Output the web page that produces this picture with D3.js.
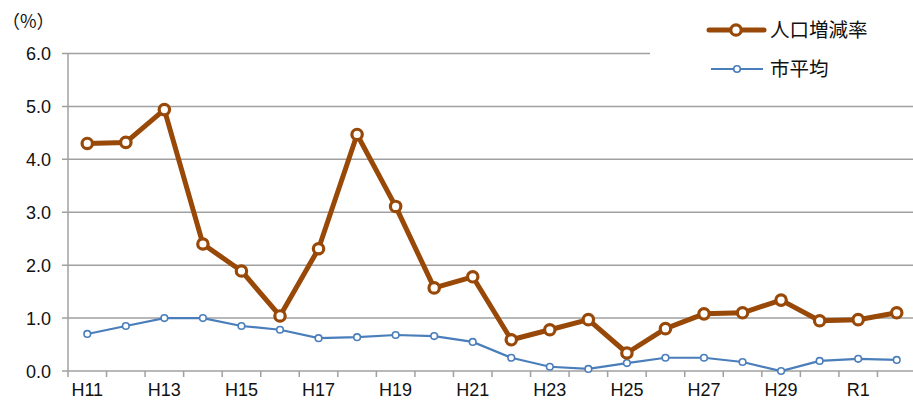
<!DOCTYPE html>
<html>
<head>
<meta charset="utf-8">
<script src="https://cdn.jsdelivr.net/npm/d3@7"></script>
<style>
  body { margin: 0; background: #fff; }
  text { font-family: "Liberation Sans", Arial, sans-serif; }
  .jp { font-family: "Noto Sans CJK JP", sans-serif; }
</style>
</head>
<body>
<div id="chart"></div>
<script>
let years = ["H11","H12","H13","H14","H15","H16","H17","H18","H19","H20","H21",
             "H22","H23","H24","H25","H26","H27","H28","H29","H30","R1","R2"]
let tickLabels = ["H11","H13","H15","H17","H19","H21","H23","H25","H27","H29","R1"]
let popRate = [4.30,4.32,4.94,2.40,1.89,1.04,2.31,4.47,3.11,1.57,1.78,
               0.59,0.78,0.97,0.34,0.80,1.08,1.10,1.34,0.95,0.97,1.10]
let cityAvg = [0.70,0.85,1.00,1.00,0.85,0.78,0.62,0.64,0.68,0.66,0.55,
               0.25,0.08,0.04,0.15,0.25,0.25,0.17,0.00,0.19,0.23,0.21]
let yTicks = [0,1,2,3,4,5,6]

let svgWidth = 913, svgHeight = 403
let orange = "#984807", blue = "#4a7ebb", grid = "#a0a0a0"

let svg = d3.select("#chart").append("svg")
  .attr("width", svgWidth).attr("height", svgHeight)

let x = d3.scaleBand().domain(years).range([68, 916])
let y = d3.scaleLinear().domain([0, 6]).range([371, 53.5])
let cx = d => x(d) + x.bandwidth() / 2

// gridlines
svg.append("g").selectAll("line").data(yTicks).enter().append("line")
  .attr("x1", 62).attr("x2", svgWidth)
  .attr("y1", d => y(d)).attr("y2", d => y(d))
  .attr("stroke", grid).attr("stroke-width", 1.5)

// y axis line
svg.append("line").attr("x1", 68).attr("x2", 68)
  .attr("y1", y(6)).attr("y2", 377)
  .attr("stroke", grid).attr("stroke-width", 1.5)

// x tick marks at category boundaries
svg.append("g").selectAll("line").data(years.slice(1)).enter().append("line")
  .attr("x1", d => x(d)).attr("x2", d => x(d))
  .attr("y1", 371).attr("y2", 377)
  .attr("stroke", grid).attr("stroke-width", 1.5)

// y labels
svg.append("g").selectAll("text").data(yTicks).enter().append("text")
  .attr("x", 51).attr("y", d => y(d) + 6.5)
  .attr("text-anchor", "end").attr("font-size", 18).attr("fill", "#111")
  .text(d => d.toFixed(1))

// x labels
svg.append("g").selectAll("text").data(tickLabels).enter().append("text")
  .attr("x", d => cx(d)).attr("y", 396)
  .attr("text-anchor", "middle").attr("font-size", 18).attr("fill", "#111")
  .text(d => d)

svg.append("text").attr("class", "jp").attr("x", 2).attr("y", 28)
  .attr("font-size", 18).attr("fill", "#111").text("（%）")

// series
let line = d3.line().x((d, i) => cx(years[i])).y(d => y(d))

svg.append("path").datum(cityAvg).attr("d", line)
  .attr("fill", "none").attr("stroke", blue).attr("stroke-width", 2.2)
svg.append("g").selectAll("circle").data(cityAvg).enter().append("circle")
  .attr("cx", (d, i) => cx(years[i])).attr("cy", d => y(d)).attr("r", 3.3)
  .attr("fill", "#fff").attr("stroke", blue).attr("stroke-width", 1.6)

svg.append("path").datum(popRate).attr("d", line)
  .attr("fill", "none").attr("stroke", orange).attr("stroke-width", 5)
  .attr("stroke-linejoin", "round")
svg.append("g").selectAll("circle").data(popRate).enter().append("circle")
  .attr("cx", (d, i) => cx(years[i])).attr("cy", d => y(d)).attr("r", 5.2)
  .attr("fill", "#fff").attr("stroke", orange).attr("stroke-width", 3.2)

// legend
let legend = svg.append("g")
legend.append("rect").attr("x", 650).attr("y", 0).attr("width", 263).attr("height", 95)
  .attr("fill", "#fff")
legend.append("line").attr("x1", 709).attr("x2", 764).attr("y1", 30).attr("y2", 30)
  .attr("stroke", orange).attr("stroke-width", 5).attr("stroke-linecap", "round")
legend.append("circle").attr("cx", 736).attr("cy", 30).attr("r", 5.2)
  .attr("fill", "#fff").attr("stroke", orange).attr("stroke-width", 3.2)
legend.append("text").attr("class", "jp").attr("x", 770).attr("y", 37)
  .attr("font-size", 19.5).attr("fill", "#111").text("人口増減率")
legend.append("line").attr("x1", 711).attr("x2", 763).attr("y1", 69).attr("y2", 69)
  .attr("stroke", blue).attr("stroke-width", 2.2)
legend.append("circle").attr("cx", 737).attr("cy", 69).attr("r", 3.3)
  .attr("fill", "#fff").attr("stroke", blue).attr("stroke-width", 1.6)
legend.append("text").attr("class", "jp").attr("x", 770).attr("y", 76)
  .attr("font-size", 19.5).attr("fill", "#111").text("市平均")
</script>
</body>
</html>
